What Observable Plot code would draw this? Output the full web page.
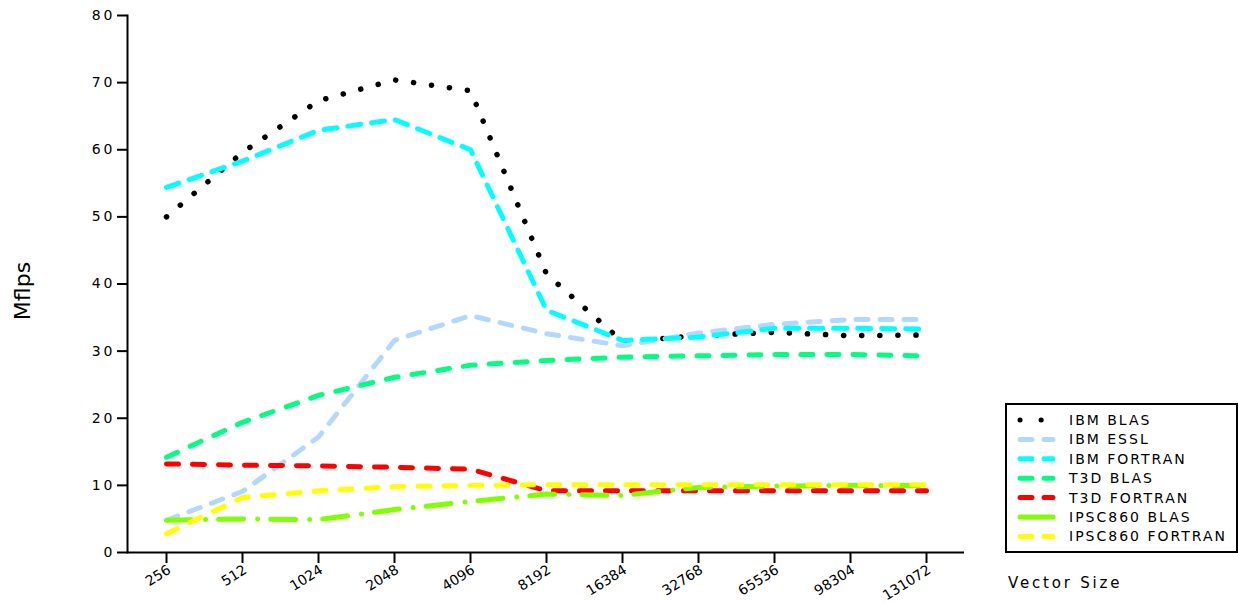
<!DOCTYPE html>
<html>
<head>
<meta charset="utf-8">
<script src="https://cdn.jsdelivr.net/npm/d3@7"></script>
<script src="https://cdn.jsdelivr.net/npm/@observablehq/plot@0.6"></script>
<style>
  html, body { margin: 0; padding: 0; background: #fff; }
  #wrap { position: relative; width: 1238px; height: 603px; font-family: "DejaVu Sans", sans-serif; }
  #ylab { position: absolute; left: 22px; top: 291px; transform: translate(-50%, -50%) rotate(-90deg); font-size: 22px; white-space: nowrap; }
  #xlab { position: absolute; left: 1008px; top: 574px; font-size: 15px; letter-spacing: 2.8px; white-space: nowrap; }
  #legend { position: absolute; left: 1005px; top: 403px; width: 229px; height: 146px; border: 2px solid #000; background: #fff; }
  #chart svg g[aria-label="y-axis tick label"] text { letter-spacing: 3px; }
</style>
</head>
<body>
<div id="wrap">
  <div id="chart"></div>
  <div id="ylab">Mflps</div>
  <div id="xlab">Vector Size</div>
  <div id="legend"></div>
</div>
<script>
const categories = ["256","512","1024","2048","4096","8192","16384","32768","65536","98304","131072"];
const yTicks = [0,10,20,30,40,50,60,70,80];

const seriesNames = ["IBM BLAS","IBM ESSL","IBM FORTRAN","T3D BLAS","T3D FORTRAN","IPSC860 BLAS","IPSC860 FORTRAN"];
const ibmBlas     = [50.0, 59.6, 67.3, 70.4, 68.8, 41.5, 31.4, 32.3, 32.8, 32.3, 32.4];
const ibmEssl     = [4.8, 9.1, 17.2, 31.6, 35.3, 32.6, 30.8, 32.7, 34.0, 34.7, 34.7];
const ibmFortran  = [54.4, 58.3, 62.9, 64.5, 60.0, 36.1, 31.6, 32.1, 33.4, 33.4, 33.3];
const t3dBlas     = [14.2, 19.4, 23.4, 26.1, 27.9, 28.6, 29.1, 29.3, 29.5, 29.5, 29.3];
const t3dFortran  = [13.2, 13.0, 12.9, 12.7, 12.4, 9.2, 9.2, 9.2, 9.2, 9.2, 9.2];
const ipscBlas    = [4.8, 5.0, 4.9, 6.4, 7.6, 8.7, 8.5, 9.7, 9.9, 10.0, 10.0];
const ipscFortran = [2.8, 8.2, 9.2, 9.8, 10.0, 10.1, 10.1, 10.1, 10.1, 10.1, 10.1];

const seriesValues = [ibmBlas, ibmEssl, ibmFortran, t3dBlas, t3dFortran, ipscBlas, ipscFortran];
const seriesColors = ["#000000","#b3d8ff","#00ffff","#00ff80","#ff0000","#80ff00","#ffff00"];
const seriesDash   = ["0.1 18","12 12","13 11","12 14","12 14","25 14 0.1 13","12 14"];
const seriesWidth  = [5.5, 5, 5, 5, 5, 5, 5];

const rows = [];
seriesNames.forEach((name, i) => {
  seriesValues[i].forEach((v, j) => rows.push({series: name, size: categories[j], mflps: v}));
});

const font = "DejaVu Sans, sans-serif";

const chart = Plot.plot({
  width: 1238,
  height: 603,
  marginLeft: 127,
  marginRight: 274,
  marginTop: 15,
  marginBottom: 51,
  style: {fontFamily: font, background: "#fff"},
  x: {type: "point", domain: categories, padding: 0.5, label: null},
  y: {domain: [0, 80], label: null},
  marks: [
    Plot.axisY({ticks: yTicks, tickSize: 10, tickPadding: 2, fontSize: 14, strokeWidth: 2, label: null}),
    Plot.axisX({tickSize: 11, strokeWidth: 2, tickFormat: () => "", label: null}),
    Plot.axisX({tickSize: 0, tickPadding: 13, tickRotate: -32, fontSize: 14, label: null, dx: 3, dy: 3}),
    Plot.frame({anchor: "left", strokeWidth: 2}),
    Plot.ruleY([0], {strokeWidth: 2}),
    ...seriesNames.map((name, i) => Plot.line(rows.filter(d => d.series === name), {
      x: "size", y: "mflps",
      stroke: seriesColors[i],
      strokeWidth: seriesWidth[i],
      strokeDasharray: seriesDash[i],
      strokeLinecap: "round",
      strokeLinejoin: "round"
    }))
  ]
});
document.getElementById("chart").appendChild(chart);

// legend
const legendDash = ["0.1 21","12 12","12 12","12 12","12 12",null,"12 12"];
const lg = d3.select("#legend").append("svg").attr("width", 229).attr("height", 146)
  .style("font-family", font);
seriesNames.forEach((name, i) => {
  const y = 15 + i * 19.4;
  lg.append("line")
    .attr("x1", 13).attr("x2", i === 0 ? 36 : 46)
    .attr("y1", y).attr("y2", y)
    .attr("stroke", seriesColors[i])
    .attr("stroke-width", 5)
    .attr("stroke-linecap", "round")
    .attr("stroke-dasharray", legendDash[i]);
  lg.append("text")
    .attr("x", 62).attr("y", y)
    .attr("dy", "0.35em")
    .attr("font-size", 14)
    .attr("letter-spacing", 2)
    .text(name);
});
</script>
</body>
</html>
